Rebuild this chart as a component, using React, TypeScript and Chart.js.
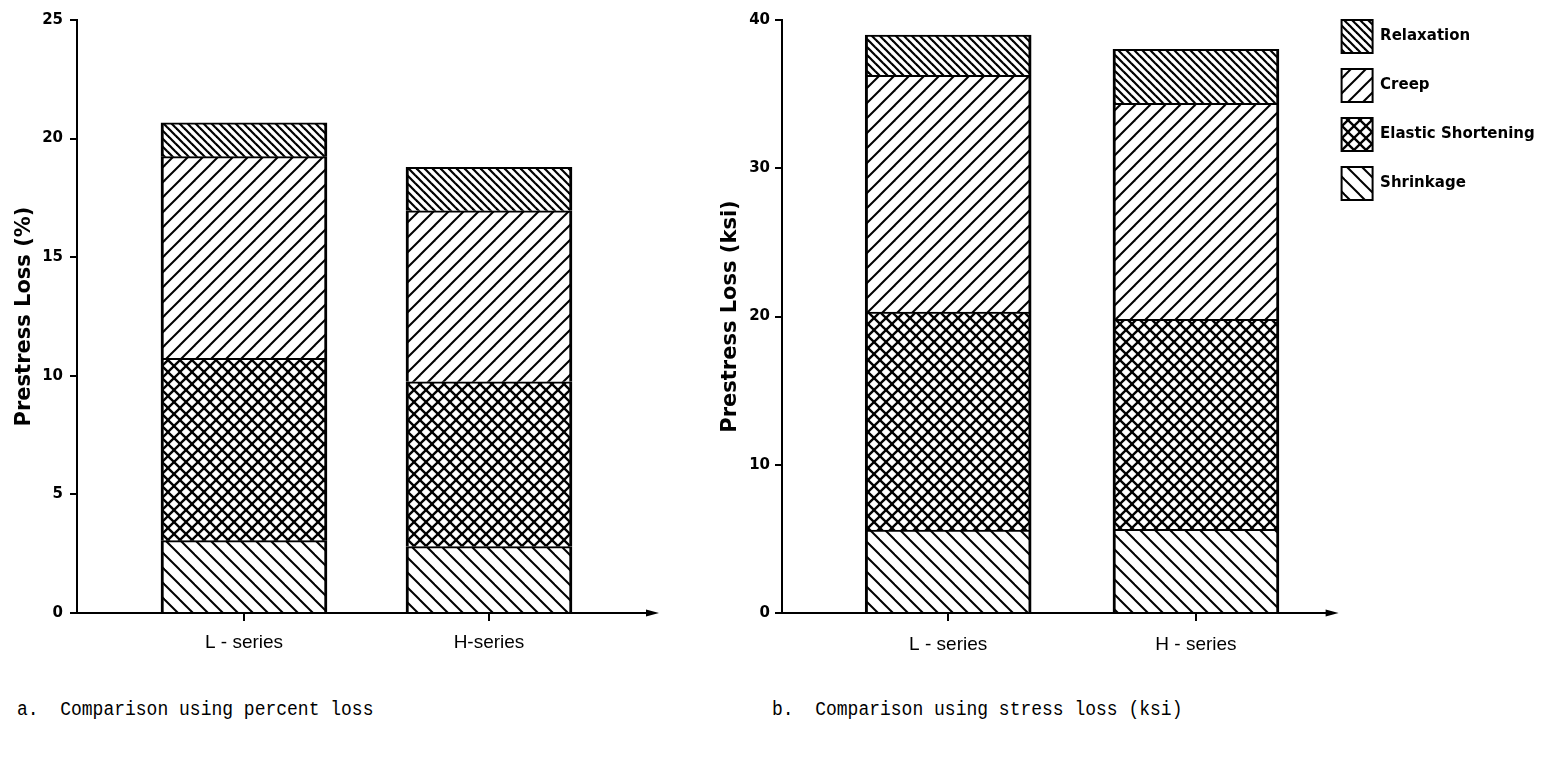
import React, { useEffect, useRef } from 'react';
import { Chart, registerables } from 'chart.js';

Chart.register(...registerables);

// ---- data ----
const seriesNames = ['Shrinkage', 'Elastic Shortening', 'Creep', 'Relaxation'];

const categoriesPercent = ['L - series', 'H-series'];
const percentShrinkage = [3.05, 2.8];
const percentElastic = [7.69, 6.95];
const percentCreep = [8.5, 7.21];
const percentRelaxation = [1.43, 1.83];

const categoriesKsi = ['L - series', 'H - series'];
const ksiShrinkage = [5.6, 5.65];
const ksiElastic = [14.7, 14.16];
const ksiCreep = [15.97, 14.57];
const ksiRelaxation = [2.72, 3.64];

const percentAxis = { max: 25, step: 5, title: 'Prestress Loss (%)' };
const ksiAxis = { max: 40, step: 10, title: 'Prestress Loss (ksi)' };

const captionA = 'a.  Comparison using percent loss';
const captionB = 'b.  Comparison using stress loss (ksi)';

const legendFont = { family: 'DejaVu Sans', size: 15, weight: 'bold' as const };

// ---- patterns ----
type Kind = 'fwd' | 'back' | 'cross';
function makePattern(kind: Kind, p: number, lw: number): CanvasPattern | string {
  const c = document.createElement('canvas');
  c.width = p;
  c.height = p;
  const g = c.getContext('2d');
  if (!g) return '#fff';
  g.fillStyle = '#fff';
  g.fillRect(0, 0, p, p);
  g.strokeStyle = '#000';
  g.lineWidth = lw;
  const fwd = () => {
    for (let k = -1; k <= 1; k++) {
      g.beginPath();
      g.moveTo(k * p - 1, p + 1);
      g.lineTo(k * p + p + 1, -1);
      g.stroke();
    }
  };
  const back = () => {
    for (let k = -1; k <= 1; k++) {
      g.beginPath();
      g.moveTo(k * p - 1, -1);
      g.lineTo(k * p + p + 1, p + 1);
      g.stroke();
    }
  };
  if (kind === 'fwd') fwd();
  else if (kind === 'back') back();
  else {
    fwd();
    back();
  }
  const pat = g.createPattern(c, 'repeat');
  return pat || '#fff';
}

const axisArrow = {
  id: 'axisArrow',
  afterDraw(chart: any) {
    const { ctx, chartArea: a } = chart;
    ctx.save();
    ctx.strokeStyle = '#000';
    ctx.fillStyle = '#000';
    ctx.lineWidth = 2;
    ctx.beginPath();
    ctx.moveTo(a.left - 1, a.bottom);
    ctx.lineTo(a.right + 2, a.bottom);
    ctx.stroke();
    ctx.beginPath();
    ctx.moveTo(a.right + 13, a.bottom);
    ctx.lineTo(a.right, a.bottom - 3.5);
    ctx.lineTo(a.right, a.bottom + 3.5);
    ctx.closePath();
    ctx.fill();
    ctx.restore();
  },
};

interface Cfg {
  cats: string[];
  values: number[][];
  axis: { max: number; step: number; title: string };
  xMin: number;
  xMax: number;
  yWidth: number;
  titlePad: number;
  tickPad: number;
  yTickPad: number;
  legend: boolean;
  padding: { top: number; right: number; left: number; bottom: number };
}

function buildChart(canvas: HTMLCanvasElement, cfg: Cfg) {
  const patterns = [
    makePattern('back', 15, 2),
    makePattern('cross', 12, 2.3),
    makePattern('fwd', 15, 2),
    makePattern('back', 8, 2.2),
  ];
  const datasets = seriesNames.map((name, i) => ({
    label: name,
    data: cfg.cats.map((_, j) => ({ x: j + 1, y: cfg.values[i][j] })),
    backgroundColor: patterns[i],
    borderColor: '#000',
    borderWidth: { top: 2, left: 3, right: 3, bottom: 0 },
    barThickness: 166,
  }));
  return new Chart(canvas, {
    type: 'bar',
    data: { datasets: datasets as any },
    plugins: [axisArrow],
    options: {
      animation: false,
      responsive: false,
      devicePixelRatio: 1,
      events: [],
      layout: { padding: cfg.padding },
      plugins: {
        tooltip: { enabled: false },
        title: cfg.legend
          ? { display: true, text: '', font: { size: 16, lineHeight: 1 }, padding: 0 }
          : { display: false },
        legend: cfg.legend
          ? {
              display: true,
              position: 'right',
              align: 'start',
              reverse: true,
              labels: {
                boxWidth: 31,
                boxHeight: 33,
                padding: 16,
                color: '#000',
                font: legendFont,
              },
            }
          : { display: false },
      },
      scales: {
        x: {
          type: 'linear',
          stacked: true,
          offset: false,
          min: cfg.xMin,
          max: cfg.xMax,
          afterFit: (s: any) => {
            s.height = 67;
          },
          afterBuildTicks: (s: any) => {
            s.ticks = cfg.cats.map((_, i) => ({ value: i + 1 }));
          },
          border: { display: false },
          grid: {
            offset: false,
            drawOnChartArea: false,
            drawTicks: true,
            tickLength: 8,
            lineWidth: 2,
            color: '#000',
          },
          ticks: {
            padding: cfg.tickPad,
            color: '#000',
            maxRotation: 0,
            autoSkip: false,
            font: { family: 'Liberation Sans', size: 19 },
            callback: (v: any) => cfg.cats[Math.round(Number(v)) - 1] ?? '',
          },
        },
        y: {
          stacked: true,
          min: 0,
          max: cfg.axis.max,
          afterFit: (s: any) => {
            s.width = cfg.yWidth;
          },
          border: { display: true, color: '#000', width: 2 },
          grid: {
            drawOnChartArea: false,
            drawTicks: true,
            tickLength: 7,
            lineWidth: 2,
            color: '#000',
          },
          ticks: {
            stepSize: cfg.axis.step,
            padding: cfg.yTickPad,
            color: '#000',
            font: { family: 'DejaVu Sans', size: 15, weight: 'bold' },
          },
          title: {
            display: true,
            text: cfg.axis.title,
            color: '#000',
            padding: { top: cfg.titlePad, bottom: 0 },
            font: { family: 'DejaVu Sans', size: 21, weight: 'bold', lineHeight: 1 },
          },
        },
      },
    } as any,
  });
}

// width the legend will take (padding + box + gap + longest label), used to place the plot area
function legendWidth(): number {
  const c = document.createElement('canvas');
  const g = c.getContext('2d');
  if (!g) return 170;
  g.font = `${legendFont.weight} ${legendFont.size}px "${legendFont.family}"`;
  const maxText = Math.max(...seriesNames.map((n) => g.measureText(n).width));
  return 16 + 31 + legendFont.size / 2 + maxText;
}

export default function App() {
  const leftRef = useRef<HTMLCanvasElement>(null);
  const rightRef = useRef<HTMLCanvasElement>(null);

  useEffect(() => {
    if (!leftRef.current || !rightRef.current) return;
    const left = buildChart(leftRef.current, {
      cats: categoriesPercent,
      values: [percentShrinkage, percentElastic, percentCreep, percentRelaxation],
      axis: percentAxis,
      xMin: 0.3184,
      xMax: 2.6408,
      yWidth: 77,
      titlePad: 14,
      tickPad: 10,
      yTickPad: 7,
      legend: false,
      padding: { top: 20, right: 54, left: 0, bottom: 0 },
    });
    const lw = legendWidth();
    const right = buildChart(rightRef.current, {
      cats: categoriesKsi,
      values: [ksiShrinkage, ksiElastic, ksiCreep, ksiRelaxation],
      axis: ksiAxis,
      xMin: 0.3293,
      xMax: 2.5232,
      yWidth: 82,
      titlePad: 20,
      tickPad: 12,
      yTickPad: 5,
      legend: true,
      padding: { top: 4, right: Math.max(0, 847 - 625 - lw), left: 0, bottom: 0 },
    });
    return () => {
      left.destroy();
      right.destroy();
    };
  }, []);

  const captionStyle: React.CSSProperties = {
    position: 'absolute',
    top: 697,
    fontFamily: '"Liberation Mono", monospace',
    fontSize: 20,
    lineHeight: '26px',
    whiteSpace: 'pre',
    color: '#000',
    transform: 'scaleX(0.9)',
    transformOrigin: 'left center',
  };

  return (
    <div style={{ position: 'absolute', left: 0, top: 0, width: 1547, height: 757, background: '#fff', overflow: 'hidden' }}>
      <canvas ref={leftRef} width={700} height={680} style={{ position: 'absolute', left: 0, top: 0 }} />
      <canvas ref={rightRef} width={847} height={680} style={{ position: 'absolute', left: 700, top: 0 }} />
      <div style={{ ...captionStyle, left: 17 }}>{captionA}</div>
      <div style={{ ...captionStyle, left: 772 }}>{captionB}</div>
    </div>
  );
}
